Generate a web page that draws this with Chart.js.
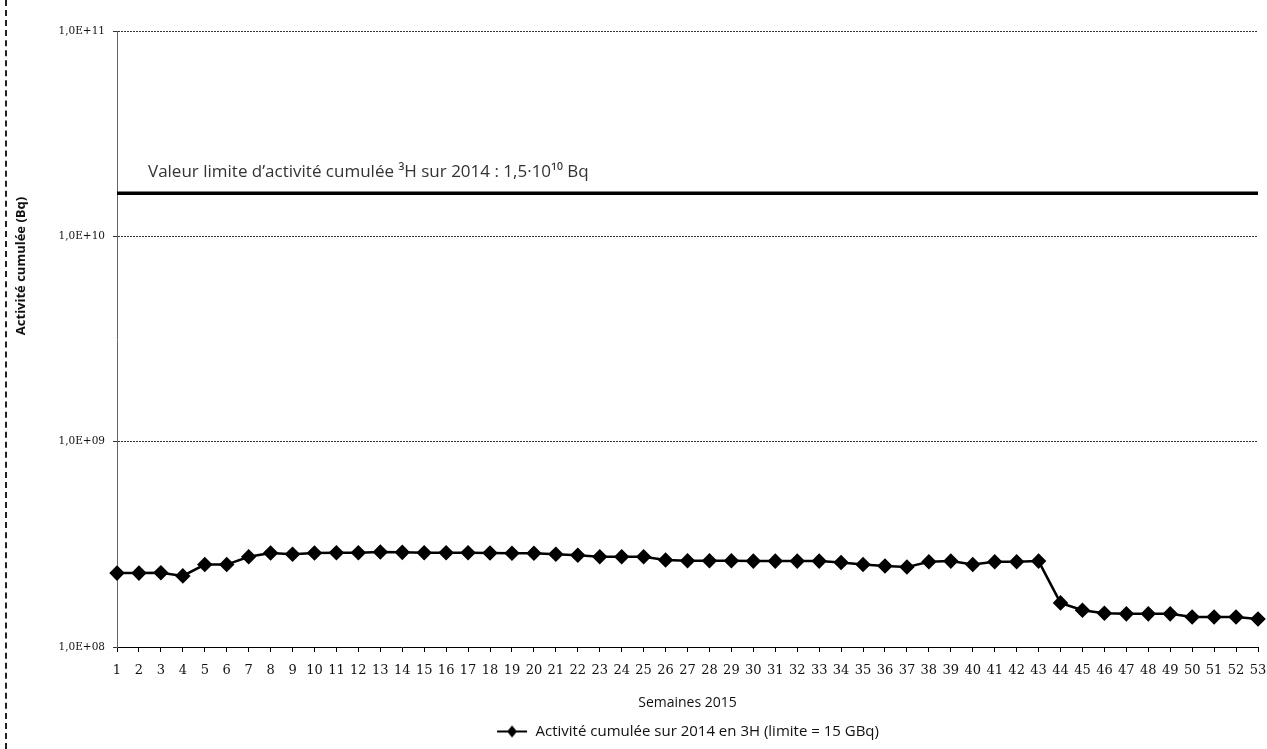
<!DOCTYPE html>
<html>
<head>
<meta charset="utf-8">
<script src="https://cdn.jsdelivr.net/npm/chart.js@4.4.1/dist/chart.umd.min.js"></script>
<style>
  html, body { margin: 0; padding: 0; background: #fff; }
  #wrap { position: relative; width: 1267px; height: 749px; }
  #edge { position: absolute; left: 5px; top: 0; height: 749px; border-left: 2px dashed #222; }
</style>
</head>
<body>
<div id="wrap">
  <div id="edge"></div>
  <canvas id="activityChart" width="1267" height="749"></canvas>
</div>
<script>
// weeks of 2015
const weeks = ['1','2','3','4','5','6','7','8','9','10','11','12','13','14','15','16','17','18','19','20',
  '21','22','23','24','25','26','27','28','29','30','31','32','33','34','35','36','37','38','39','40',
  '41','42','43','44','45','46','47','48','49','50','51','52','53'];

// cumulated activity (Bq)
const activity = [2.29e8, 2.29e8, 2.30e8, 2.22e8, 2.52e8, 2.52e8, 2.75e8, 2.87e8, 2.83e8, 2.87e8,
  2.88e8, 2.88e8, 2.90e8, 2.89e8, 2.88e8, 2.88e8, 2.88e8, 2.87e8, 2.86e8, 2.86e8,
  2.83e8, 2.80e8, 2.75e8, 2.75e8, 2.75e8, 2.65e8, 2.63e8, 2.63e8, 2.63e8, 2.62e8,
  2.62e8, 2.62e8, 2.62e8, 2.58e8, 2.52e8, 2.48e8, 2.45e8, 2.60e8, 2.62e8, 2.52e8,
  2.60e8, 2.60e8, 2.62e8, 1.64e8, 1.51e8, 1.46e8, 1.45e8, 1.45e8, 1.45e8, 1.40e8,
  1.40e8, 1.40e8, 1.37e8];

// limit line, at the height where it is drawn on the picture
const limitValue = 1.62e10;
const yTicks = [1e8, 1e9, 1e10, 1e11];

const seriesLabel = 'Activité cumulée sur 2014 en 3H (limite = 15 GBq)';
const limitText = 'Valeur limite d\u2019activité cumulée \u00b3H sur 2014 : 1,5\u00b710\u00b9\u2070 Bq';
const yTitle = 'Activité cumulée (Bq)';

// small picture for the legend: line with a diamond
const legendIcon = document.createElement('canvas');
legendIcon.width = 32;
legendIcon.height = 14;
(function () {
    const c = legendIcon.getContext('2d');
    c.strokeStyle = '#000';
    c.lineWidth = 2;
    c.beginPath();
    c.moveTo(1, 7);
    c.lineTo(31, 7);
    c.stroke();
    c.fillStyle = '#000';
    c.beginPath();
    c.moveTo(16, 1);
    c.lineTo(21, 7);
    c.lineTo(16, 13);
    c.lineTo(11, 7);
    c.closePath();
    c.fill();
})();

// texts drawn on top of the chart: limit caption and y title
const textPlugin = {
    id: 'texts',
    afterDraw(chart) {
        const ctx = chart.ctx;
        const y = chart.scales.y.getPixelForValue(limitValue);
        ctx.save();
        ctx.fillStyle = '#333';
        ctx.font = '17px "Open Sans"';
        ctx.textBaseline = 'middle';
        ctx.textAlign = 'left';
        ctx.fillText(limitText, 148, y - 21);

        ctx.translate(21, 266);
        ctx.rotate(-Math.PI / 2);
        ctx.font = 'bold 13px "Open Sans"';
        ctx.fillStyle = '#111';
        ctx.textAlign = 'center';
        ctx.textBaseline = 'middle';
        ctx.fillText(yTitle, 0, 0);
        ctx.restore();
    }
};

const ctx = document.getElementById('activityChart').getContext('2d');
const activityChart = new Chart(ctx, {
    type: 'line',
    data: {
        labels: weeks,
        datasets: [{
            label: seriesLabel,
            data: activity,
            borderColor: '#000',
            backgroundColor: '#000',
            borderWidth: 2.5,
            pointStyle: 'rectRot',
            pointRadius: 6,
            pointHoverRadius: 6,
            tension: 0
        }, {
            label: 'limite',
            data: weeks.map(() => limitValue),
            borderColor: '#000',
            borderWidth: 3.5,
            pointRadius: 0,
            pointHoverRadius: 0
        }]
    },
    options: {
        responsive: false,
        animation: false,
        layout: { padding: { top: 31, right: 1, left: 0, bottom: 0 } },
        plugins: {
            tooltip: { enabled: false },
            legend: {
                position: 'bottom',
                fullSize: false,
                labels: {
                    filter: item => item.datasetIndex === 0,
                    usePointStyle: true,
                    pointStyle: legendIcon,
                    pointStyleWidth: 32,
                    color: '#111',
                    font: { family: 'Open Sans', size: 15 },
                    padding: 13
                }
            }
        },
        scales: {
            x: {
                type: 'category',
                offset: false,
                grid: { drawOnChartArea: false, drawTicks: true, tickLength: 5, color: '#000' },
                border: { color: '#000', width: 1 },
                ticks: {
                    autoSkip: false,
                    maxRotation: 0,
                    color: '#111',
                    padding: 11,
                    font: { family: 'DejaVu Serif', size: 13 }
                },
                title: {
                    display: true,
                    text: 'Semaines 2015',
                    color: '#111',
                    font: { family: 'Open Sans', size: 14 },
                    padding: { top: 10, bottom: 0 }
                },
                afterFit: scale => {
                    scale.height = 64;
                    scale.paddingRight = 9;
                }
            },
            y: {
                type: 'logarithmic',
                min: 1e8,
                max: 1e11,
                afterBuildTicks: scale => { scale.ticks = yTicks.map(v => ({ value: v })); },
                grid: { color: '#333', lineWidth: 1, drawTicks: true, tickLength: 4 },
                border: { color: '#666', width: 1, dash: [2, 1] },
                ticks: {
                    color: '#111',
                    padding: 8,
                    font: { family: 'DejaVu Serif', size: 10.5 },
                    callback: v => '1,0E+' + String(Math.round(Math.log10(v))).padStart(2, '0')
                },
                afterFit: scale => { scale.width = 117; }
            }
        }
    },
    plugins: [textPlugin]
});
</script>
</body>
</html>
